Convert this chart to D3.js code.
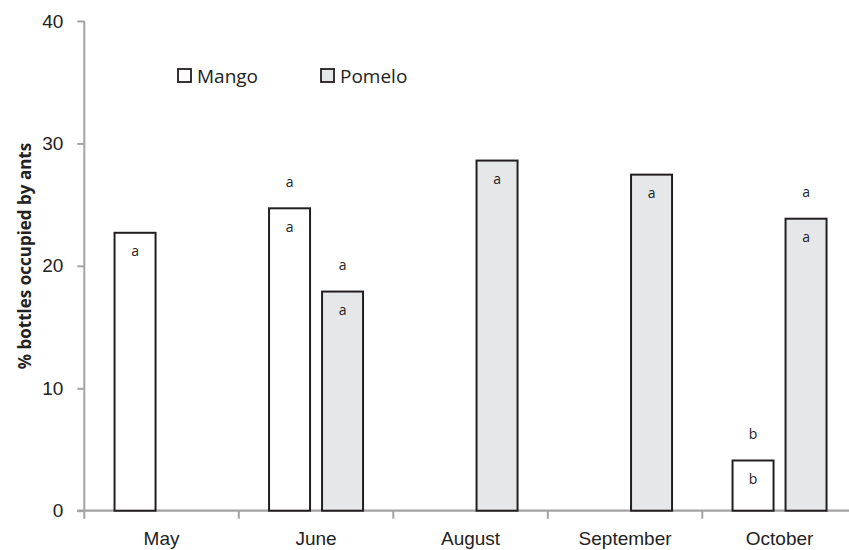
<!DOCTYPE html>
<html>
<head>
<meta charset="utf-8">
<script src="https://cdn.jsdelivr.net/npm/d3@7"></script>
<style>
  html, body { margin: 0; padding: 0; background: #fff; }
  svg { display: block; font-family: "Open Sans", "Noto Sans", sans-serif; }
</style>
</head>
<body>
<svg id="chart" width="849" height="550"></svg>
<script>
// Survey months and fruit orchards
const categories = ["May", "June", "August", "September", "October"];
const series = ["Mango", "Pomelo"];

// % of bottles occupied by ants (null = not sampled)
const mangoValues  = [22.7, 24.7, null, null, 4.1];
const pomeloValues = [null, 17.9, 28.6, 27.45, 23.85];

// Significance letters: inside the bar top, and above the bar
const mangoLettersIn     = ["a", "a", null, null, "b"];
const pomeloLettersIn    = [null, "a", "a", "a", "a"];
const mangoLettersAbove  = [null, "a", null, null, "b"];
const pomeloLettersAbove = [null, "a", null, null, "a"];

const yTicks = [0, 10, 20, 30, 40];
const yTitle = "% bottles occupied by ants";

const fills = { Mango: "#ffffff", Pomelo: "#e6e7e8" };
const axisColor = "#a3a3a3";
const barStroke = "#231f20";
const textColor = "#222222";

const svg = d3.select("#chart");
svg.append("rect").attr("width", 849).attr("height", 550).attr("fill", "#fff");

const plotLeft = 84.3, plotTop = 21, plotBottom = 510.7, step = 154.5;

const y = d3.scaleLinear().domain([0, 40]).range([plotBottom, plotTop]);
const x0 = d3.scaleBand().domain(categories)
  .range([plotLeft, plotLeft + step * categories.length]).padding(0);
const x1 = d3.scaleBand().domain(series)
  .range([30.25, 124.25]).paddingInner(12 / 53).paddingOuter(0);

// Rows per month/series
const rows = [];
categories.forEach((c, i) => {
  rows.push({ cat: c, s: "Mango", v: mangoValues[i], inL: mangoLettersIn[i], upL: mangoLettersAbove[i] });
  rows.push({ cat: c, s: "Pomelo", v: pomeloValues[i], inL: pomeloLettersIn[i], upL: pomeloLettersAbove[i] });
});
const bars = rows.filter(d => d.v != null);

// Y axis: ticks and labels
const yAxis = svg.append("g")
  .attr("transform", `translate(${plotLeft},0)`)
  .call(d3.axisLeft(y).tickValues(yTicks).tickSize(7).tickSizeOuter(0).tickPadding(14).tickFormat(d3.format("d")));
yAxis.select(".domain").remove();
yAxis.selectAll(".tick line").attr("stroke", axisColor).attr("stroke-width", 2);
yAxis.selectAll(".tick text").attr("fill", textColor).style("font-size", "19px");

// Y axis line (runs slightly past zero as the first category tick)
svg.append("line")
  .attr("x1", plotLeft).attr("x2", plotLeft)
  .attr("y1", plotTop).attr("y2", plotBottom + 8)
  .attr("stroke", axisColor).attr("stroke-width", 2);

// X axis line
svg.append("line")
  .attr("x1", plotLeft - 7).attr("x2", plotLeft + step * categories.length)
  .attr("y1", plotBottom).attr("y2", plotBottom)
  .attr("stroke", axisColor).attr("stroke-width", 2.2);

// Category boundary ticks
svg.append("g").selectAll("line")
  .data(categories.slice(1))
  .join("line")
  .attr("x1", d => x0(d)).attr("x2", d => x0(d))
  .attr("y1", plotBottom).attr("y2", plotBottom + 8)
  .attr("stroke", axisColor).attr("stroke-width", 2);

// Category labels
const xAxis = svg.append("g")
  .attr("transform", `translate(0,${plotBottom})`)
  .call(d3.axisBottom(x0).tickSize(0).tickPadding(21));
xAxis.select(".domain").remove();
xAxis.selectAll(".tick text").attr("fill", textColor).style("font-size", "19px");

// Bars
svg.append("g").selectAll("rect")
  .data(bars)
  .join("rect")
  .attr("x", d => x0(d.cat) + x1(d.s))
  .attr("y", d => y(d.v))
  .attr("width", x1.bandwidth())
  .attr("height", d => y(0) - y(d.v))
  .attr("fill", d => fills[d.s])
  .attr("stroke", barStroke)
  .attr("stroke-width", 2);

// Letters inside bar tops
svg.append("g").selectAll("text")
  .data(bars.filter(d => d.inL))
  .join("text")
  .attr("x", d => x0(d.cat) + x1(d.s) + x1.bandwidth() / 2)
  .attr("y", d => y(d.v) + 18)
  .attr("text-anchor", "middle").attr("dominant-baseline", "central")
  .attr("fill", textColor).style("font-size", "14px")
  .text(d => d.inL);

// Letters above bars
svg.append("g").selectAll("text")
  .data(bars.filter(d => d.upL))
  .join("text")
  .attr("x", d => x0(d.cat) + x1(d.s) + x1.bandwidth() / 2)
  .attr("y", d => y(d.v) - 27)
  .attr("text-anchor", "middle").attr("dominant-baseline", "central")
  .attr("fill", textColor).style("font-size", "14px")
  .text(d => d.upL);

// Y axis title
svg.append("text")
  .attr("transform", "translate(24.5,256) rotate(-90)")
  .attr("text-anchor", "middle").attr("dominant-baseline", "central")
  .attr("fill", textColor).style("font-size", "17px").style("font-weight", "bold")
  .text(yTitle);

// Legend
const legendPos = [178, 321];
const legend = svg.append("g").selectAll("g")
  .data(series)
  .join("g")
  .attr("transform", (d, i) => `translate(${legendPos[i]},69)`);
legend.append("rect")
  .attr("width", 13).attr("height", 13)
  .attr("fill", d => fills[d]).attr("stroke", barStroke).attr("stroke-width", 1.8);
legend.append("text")
  .attr("x", 19).attr("y", 7)
  .attr("dominant-baseline", "central")
  .attr("fill", textColor).style("font-size", "19px")
  .text(d => d);
</script>
</body>
</html>
